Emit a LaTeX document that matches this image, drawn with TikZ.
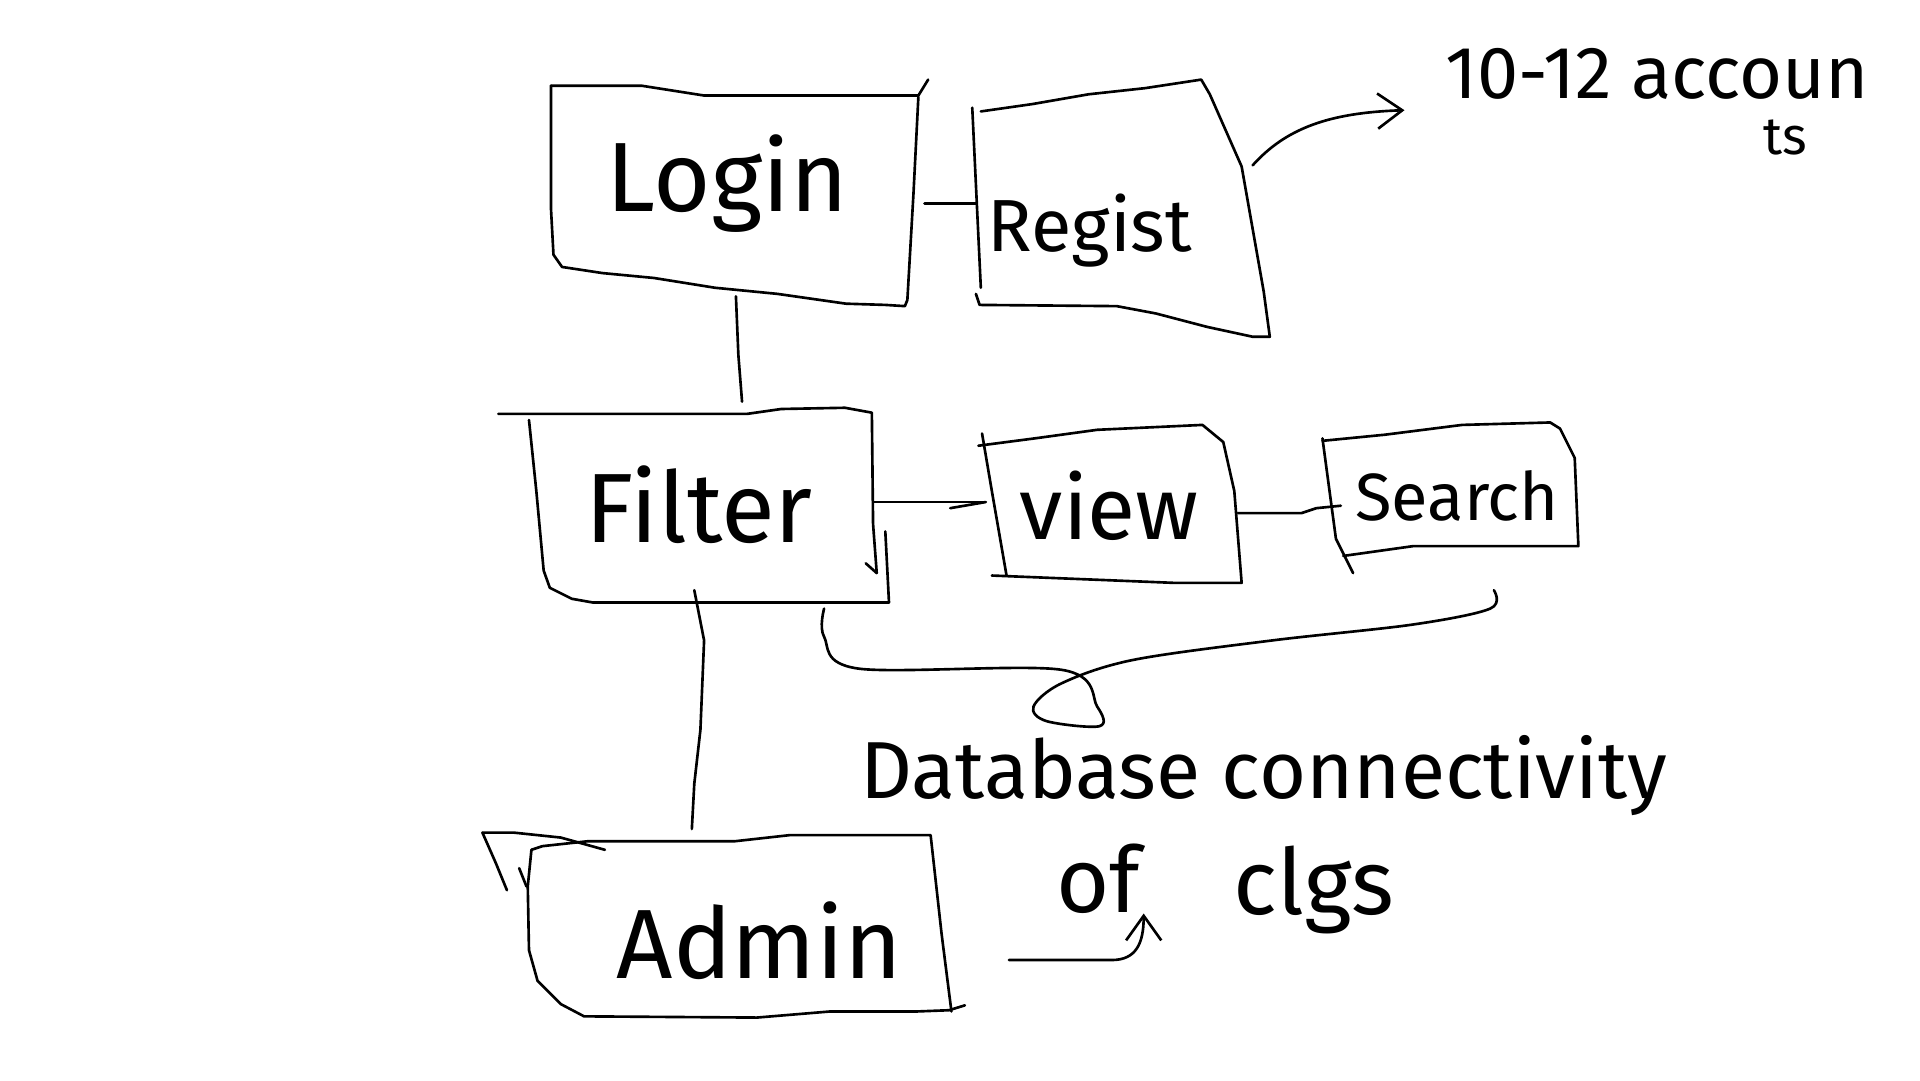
\documentclass[tikz,border=0pt]{standalone}
\usepackage{fontspec}
\setmainfont{Fira Sans}
\usetikzlibrary{arrows.meta}
\tikzset{
  sk/.style={line width=0.75pt, line join=round, line cap=round},
  barb/.style={-{Straight Barb[length=7pt,width=10pt]}},
  lbl/.style={inner sep=0pt, font=\fontsize{28}{30}\selectfont},
  lblm/.style={inner sep=0pt, font=\fontsize{21}{23}\selectfont},
  lbls/.style={inner sep=0pt, font=\fontsize{21}{23}\selectfont},
}
\begin{document}
\begin{tikzpicture}[x=0.012245cm,y=-0.012245cm]
\fill[white] (0,0) rectangle (1568,882);
\useasboundingbox (0,0) rectangle (1568,882);

% ---------- Login box ----------
\draw[sk] (450,70) -- (524,70) -- (575,78) -- (750,78) -- (758,65);
\draw[sk] (750,79) -- (746,158) -- (741,245) -- (739,250) -- (723,249) -- (691,248)
  -- (635,240) -- (584,235) -- (534,227) -- (492,223) -- (459,218) -- (452,208)
  -- (450,171) -- (450,70);
\node[lbl] (login) at (594,150) {Login};

% ---------- Regist box ----------
\draw[sk] (794,88) -- (801,235);
\draw[sk] (801,91) -- (843,85) -- (889,77) -- (935,72) -- (981,65) -- (988,77)
  -- (1014,136) -- (1032,238) -- (1037,275) -- (1023,275) -- (986,267)
  -- (944,256) -- (912,250) -- (800,249) -- (797,240);
\node[lblm] (regist) at (890,188) {Regist};

% ---------- Filter box ----------
\draw[sk] (407,338) -- (610,338) -- (638,334) -- (690,333) -- (712,337)
  -- (713,428) -- (716,468);
\draw[sk] (707,460) -- (716,468);
\draw[sk] (432,343) -- (438,401) -- (444,466) -- (449,480) -- (467,489) -- (484,492)
  -- (726,492) -- (723,434);
\node[lbl] (filter) at (571,412) {Filter};

% ---------- View box ----------
\draw[sk] (802,354) -- (810,401) -- (822,470);
\draw[sk] (799,364) -- (845,358) -- (896,351) -- (982,347) -- (999,361)
  -- (1008,401) -- (1014,476) -- (959,476) -- (810,470);
\node[inner sep=0pt, font=\fontsize{25}{27}\selectfont] (view) at (906,413) {view};

% ---------- Search box ----------
\draw[sk] (1080,358) -- (1091,440) -- (1105,468);
\draw[sk] (1080,360) -- (1131,355) -- (1194,347) -- (1266,345) -- (1274,350)
  -- (1286,374) -- (1289,446) -- (1154,446) -- (1097,454);
\node[inner sep=0pt, font=\fontsize{19}{21}\selectfont] (search) at (1190,405) {Search};

% ---------- Admin box ----------
\draw[sk] (394,680) -- (420,680) -- (458,684) -- (494,694);
\draw[sk] (394,680) -- (405,705) -- (414,727);
\draw[sk] (424,709) -- (430,724);
\draw[sk] (434,694) -- (443,691) -- (480,687) -- (600,687) -- (645,682) -- (760,682)
  -- (769,763) -- (777,826);
\draw[sk] (788,821) -- (775,825) -- (749,826) -- (678,826) -- (618,831) -- (477,830)
  -- (458,820) -- (439,801) -- (432,776) -- (431,724) -- (434,694);
\node[lbl] (admin) at (620,768) {Admin};

% ---------- texts ----------
\node[lbls, anchor=west] (acc) at (1180,60) {10-12 accoun};
\node[inner sep=0pt, font=\fontsize{15}{17}\selectfont] (ts) at (1458,112) {ts};
\node[inner sep=0pt, font=\fontsize{23}{25}\selectfont] (db) at (1032,633) {Database connectivity};
\node[inner sep=0pt, font=\fontsize{26}{28}\selectfont] (of) at (897,718) {of};
\node[inner sep=0pt, font=\fontsize{26}{28}\selectfont] (clgs) at (1073,727) {clgs};

% ---------- connector end points ----------
\coordinate (lr1) at (755,166);
\coordinate (lr2) at (797,166);
\coordinate (lf1) at (601,242);
\coordinate (lf2) at (606,328);
\coordinate (ra1) at (1023,135);
\coordinate (ra2) at (1147,90);
\coordinate (fv1) at (713,410);
\coordinate (fv2) at (805,410);
\coordinate (vs1) at (1011,419);
\coordinate (vs2) at (1095,413);
\coordinate (fa1) at (567,482);
\coordinate (fa2) at (565,677);
\coordinate (fs1) at (673,497);
\coordinate (fs2) at (1220,482);
\coordinate (ao1) at (824,784);
\coordinate (ao2) at (934,746);

% ---------- connectors ----------
\draw[sk] (lr1) -- (lr2);
\draw[sk] (lf1) -- (603,290) -- (lf2);
\draw[sk, barb] (ra1) .. controls (1050,105) and (1085,92) .. (ra2);
\draw[sk] (fv1) -- (fv2);
\draw[sk] (776,415) -- (fv2);
\draw[sk] (vs1) -- (1063,419) -- (1075,415) -- (vs2);
\draw[sk] (fa1) -- (575,523) -- (572,596) -- (567,640) -- (fa2);
\draw[sk] plot[smooth, tension=0.55] coordinates {(fs1) (673,520) (701,546) (867,547)
  (896,577) (898,593) (855,589) (844,577) (867,558) (925,539) (1039,523)
  (1154,510) (1217,497) (fs2)};
\draw[sk, barb] (ao1) -- (908,784) .. controls (928,784) and (934,770) .. (ao2);
\end{tikzpicture}
\end{document}
